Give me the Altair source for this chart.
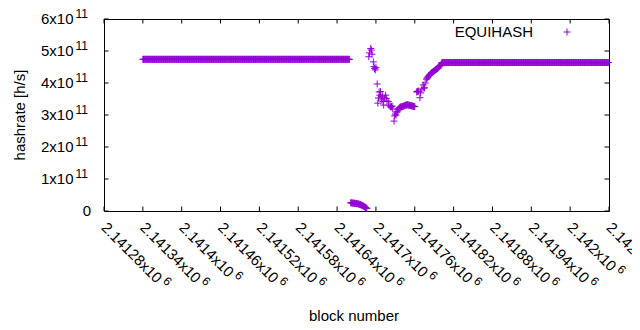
import altair as alt
import pandas as pd

# ---------------- data ----------------
plateau_a_blocks = list(range(2141340, 2141660))
plateau_a_value = 4.74e11

low_blocks = list(range(2141661, 2141687))
low_values = [2.55e10, 2.55e10, 2.5e10, 2.5e10, 2.45e10, 2.45e10, 2.4e10, 2.4e10,
              2.35e10, 2.3e10, 2.3e10, 2.25e10, 2.2e10, 2.1e10, 2.05e10, 2.0e10,
              1.9e10, 1.8e10, 1.7e10, 1.6e10, 1.5e10, 1.35e10, 1.2e10, 1.1e10,
              0.95e10, 0.8e10]

mid_blocks = [2141689, 2141690, 2141692, 2141693, 2141694, 2141696, 2141697, 2141698,
              2141699, 2141700, 2141702, 2141703, 2141704, 2141705, 2141706, 2141707,
              2141708, 2141709, 2141710, 2141711, 2141712, 2141713, 2141715, 2141716,
              2141717, 2141719, 2141720, 2141722, 2141723, 2141724, 2141725, 2141726,
              2141728, 2141729, 2141730, 2141731, 2141732, 2141733, 2141734, 2141735,
              2141736]
mid_values = [4.82e11, 4.94e11, 5.08e11, 5.03e11, 4.90e11, 4.66e11, 4.51e11, 4.45e11,
              4.41e11, 4.48e11, 3.97e11, 3.37e11, 3.53e11, 3.72e11, 3.62e11, 3.73e11,
              3.56e11, 3.47e11, 3.59e11, 3.42e11, 3.31e11, 3.53e11, 3.62e11, 3.52e11,
              3.44e11, 3.42e11, 3.31e11, 3.28e11, 3.25e11, 3.26e11, 3.28e11, 3.19e11,
              2.81e11, 2.97e11, 3.03e11, 3.00e11, 3.09e11, 3.10e11, 3.16e11, 3.19e11,
              3.22e11]

trough_blocks = list(range(2141737, 2141761))
trough_values = [3.24e11, 3.25e11, 3.25e11, 3.26e11, 3.27e11, 3.27e11, 3.28e11, 3.29e11,
                 3.30e11, 3.31e11, 3.31e11, 3.32e11, 3.32e11, 3.31e11, 3.31e11, 3.30e11,
                 3.30e11, 3.29e11, 3.29e11, 3.28e11, 3.28e11, 3.27e11, 3.27e11, 3.26e11]

step_blocks = [2141763, 2141764, 2141765, 2141766, 2141768, 2141769, 2141771, 2141773,
               2141774, 2141775, 2141776]
step_values = [3.72e11, 3.74e11, 3.73e11, 3.75e11, 3.54e11, 3.69e11, 3.81e11, 3.94e11,
               3.84e11, 3.85e11, 4.00e11]

rise_blocks = list(range(2141778, 2141802))
rise_values = [4.12e11, 4.15e11, 4.18e11, 4.20e11, 4.23e11, 4.25e11, 4.27e11, 4.30e11,
               4.32e11, 4.33e11, 4.35e11, 4.36e11, 4.38e11, 4.40e11, 4.41e11, 4.42e11,
               4.44e11, 4.45e11, 4.47e11, 4.50e11, 4.52e11, 4.54e11, 4.56e11, 4.60e11]

plateau_b_blocks = list(range(2141802, 2142060))
plateau_b_value = 4.64e11

x_ticks = [2141280, 2141340, 2141400, 2141460, 2141520, 2141580, 2141640,
           2141700, 2141760, 2141820, 2141880, 2141940, 2142000, 2142060]
x_mant = ["2.14128", "2.14134", "2.1414", "2.14146", "2.14152", "2.14158", "2.14164",
          "2.1417", "2.14176", "2.14182", "2.14188", "2.14194", "2.142", "2.14206"]
x_exp = "6"

y_ticks = [0, 1e11, 2e11, 3e11, 4e11, 5e11, 6e11]
y_mant = ["0", "1", "2", "3", "4", "5", "6"]
y_exp = "11"

series_name = "EQUIHASH"
x_title = "block number"
y_title = "hashrate [h/s]"

# ---------------- tables ----------------
blocks = (plateau_a_blocks + low_blocks + mid_blocks + trough_blocks + step_blocks
          + rise_blocks + plateau_b_blocks)
values = ([plateau_a_value] * len(plateau_a_blocks) + low_values + mid_values
          + trough_values + step_values + rise_values
          + [plateau_b_value] * len(plateau_b_blocks))
pts = pd.DataFrame({"block": blocks, "hashrate": values})
xt = pd.DataFrame({"v": x_ticks, "m": x_mant})
yt = pd.DataFrame({"v": y_ticks, "m": y_mant})

W, H = 505, 192
FONT = "Liberation Sans"
FS = 15
SFS = 12
PURPLE = "#9400d3"
PLUS = "M-1,0L1,0M0,-1L0,1"

xs = alt.Scale(domain=[2141280, 2142060], nice=False, zero=False)
ys = alt.Scale(domain=[0, 6e11], nice=False)

points = alt.Chart(pts).mark_point(
    shape=PLUS, filled=False, size=49, strokeWidth=1, color=PURPLE, opacity=1
).encode(
    x=alt.X("block:Q", scale=xs, axis=None),
    y=alt.Y("hashrate:Q", scale=ys, axis=None),
)

xb = alt.Chart(xt)
yb = alt.Chart(yt)

tick_bottom = xb.mark_rule(color="black", strokeWidth=1).encode(
    x=alt.X("v:Q", scale=xs, axis=None), y=alt.value(H), y2=alt.value(H - 4.5))
tick_top = xb.mark_rule(color="black", strokeWidth=1).encode(
    x=alt.X("v:Q", scale=xs, axis=None), y=alt.value(0), y2=alt.value(4.5))
tick_left = yb.mark_rule(color="black", strokeWidth=1).encode(
    y=alt.Y("v:Q", scale=ys, axis=None), x=alt.value(0), x2=alt.value(4.5))
tick_right = yb.mark_rule(color="black", strokeWidth=1).encode(
    y=alt.Y("v:Q", scale=ys, axis=None), x=alt.value(W), x2=alt.value(W - 4.5))

xlab = xb.transform_calculate(t="datum.m + 'x10'").mark_text(
    angle=45, align="left", baseline="middle", font=FONT, fontSize=FS, color="black"
).encode(x=alt.X("v:Q", scale=xs, axis=None), y=alt.value(H + 14), text="t:N")

xsup = xb.transform_calculate(
    sdx=f"{FS}*(0.556*(length(datum.m)-1) + 0.278 + 0.5 + 1.112) + 3",
    s=f"'{x_exp}'",
).mark_text(
    angle=45, align="left", baseline="middle", font=FONT, fontSize=SFS, color="black",
    dx={"expr": "datum.sdx"}, dy=-5,
).encode(x=alt.X("v:Q", scale=xs, axis=None), y=alt.value(H + 14), text="s:N")

ylab0 = yb.transform_filter("datum.m == '0'").mark_text(
    align="right", baseline="middle", font=FONT, fontSize=FS, color="black"
).encode(y=alt.Y("v:Q", scale=ys, axis=None), x=alt.value(-13), text="m:N")

ylab = yb.transform_filter("datum.m != '0'").transform_calculate(
    t="datum.m + 'x10'").mark_text(
    align="right", baseline="middle", font=FONT, fontSize=FS, color="black"
).encode(y=alt.Y("v:Q", scale=ys, axis=None), x=alt.value(-30.5), text="t:N")

ysup = yb.transform_filter("datum.m != '0'").transform_calculate(
    s=f"'{y_exp}'").mark_text(
    align="left", baseline="middle", font=FONT, fontSize=SFS, color="black", dy=-5
).encode(y=alt.Y("v:Q", scale=ys, axis=None), x=alt.value(-28.5), text="s:N")

one = pd.DataFrame({"a": [series_name], "xt": [x_title], "yt": [y_title]})
ob = alt.Chart(one)
xtitle = ob.mark_text(font=FONT, fontSize=FS, color="black", baseline="middle").encode(
    x=alt.value(250), y=alt.value(297), text="xt:N")
ytitle = ob.mark_text(font=FONT, fontSize=FS, color="black", baseline="middle",
                      angle=270).encode(x=alt.value(-84), y=alt.value(H / 2), text="yt:N")
leg_text = ob.mark_text(font=FONT, fontSize=FS, color="black", align="right",
                        baseline="middle").encode(
    x=alt.value(429), y=alt.value(13), text="a:N")
leg_pt = ob.mark_point(shape=PLUS, filled=False, size=49, strokeWidth=1, color=PURPLE,
                       opacity=1).encode(x=alt.value(463), y=alt.value(13))

chart = alt.layer(
    tick_bottom, tick_top, tick_left, tick_right,
    points, xlab, xsup, ylab0, ylab, ysup, xtitle, ytitle, leg_text, leg_pt,
).properties(
    width=W, height=H,
    autosize=alt.AutoSizeParams(type="none"),
    padding={"left": 96, "top": 11, "right": 23, "bottom": 115},
    background="white",
).configure_view(stroke="black", strokeWidth=1)

chart.save("out.html", embed_options={"renderer": "svg", "actions": False})
